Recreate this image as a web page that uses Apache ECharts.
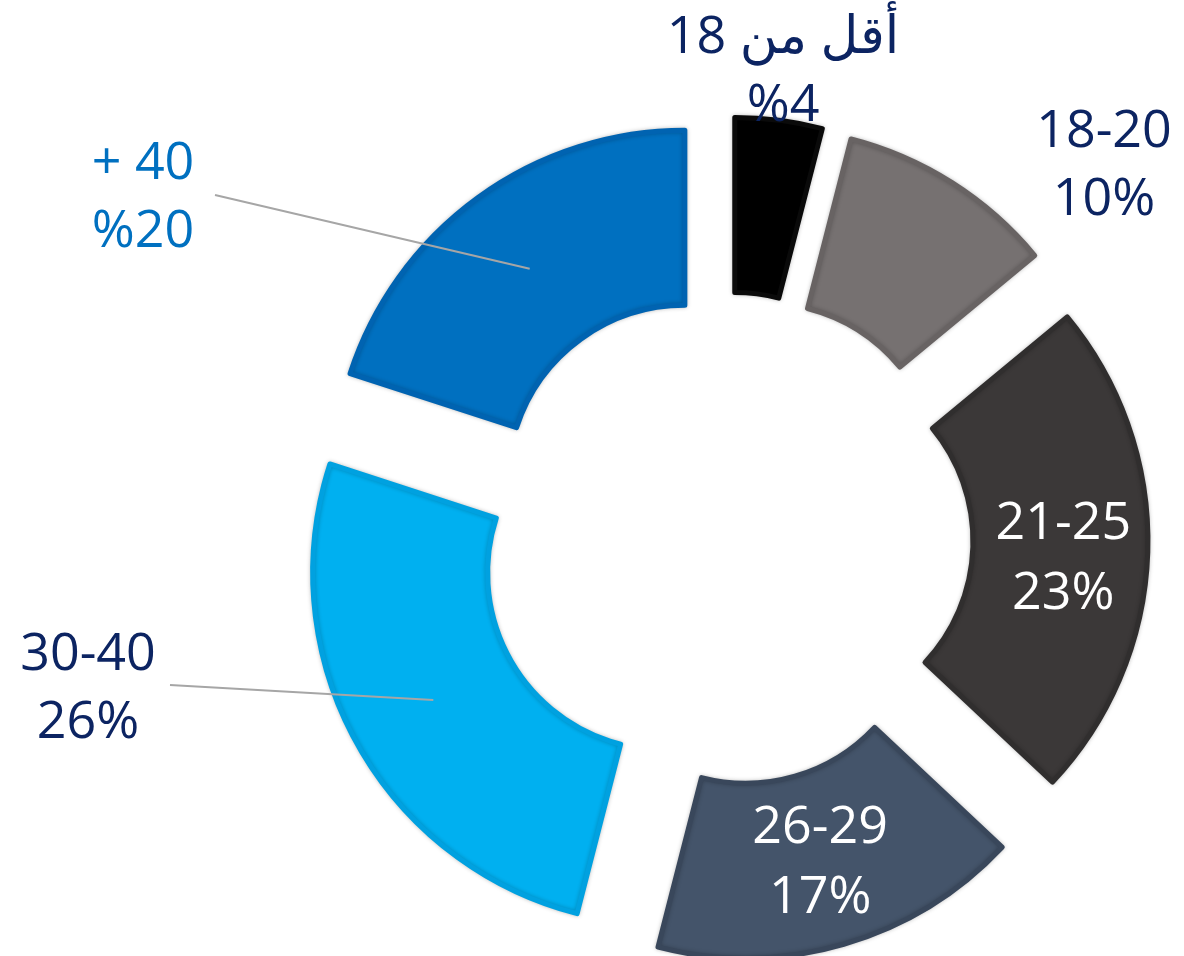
<!DOCTYPE html>
<html>
<head>
<meta charset="utf-8">
<title>Age distribution</title>
<script src="https://cdn.jsdelivr.net/npm/echarts@6/dist/echarts.min.js"></script>
<style>
  html, body { margin: 0; padding: 0; background: #fff; }
  #chart { width: 1184px; height: 956px; }
</style>
</head>
<body>
<div id="chart"></div>
<script>
// age groups, clockwise from the top
const categories = ['أقل من 18', '18-20', '21-25', '26-29', '30-40', '+ 40'];
const shares = [4, 10, 23, 17, 26, 20];
// percent sign written before the number for the Arabic-style labels
const percentFirst = [true, false, false, false, false, true];

const fillColors = ['#000000', '#767171', '#3b3838', '#44546a', '#00b0f0', '#0070c0'];
const edgeColors = ['#0a0a0a', '#686363', '#302e2e', '#39475b', '#00a1e0', '#0063b1'];
const textColors = ['#0c2462', '#0c2462', '#ffffff', '#ffffff', '#0c2462', '#0070c0'];
const insideLabel = [false, false, true, true, false, false];
const withLine = [false, false, false, false, true, true];

// label block centres for the outside labels, and where their leader lines stop
const outsideLabelPos = {
  0: [783, 72],
  1: [1104, 166],
  4: [88, 689],
  5: [143, 198]
};
const lineEnds = {
  4: [170, 685],
  5: [215, 195]
};

const labelFont = "'Open Sans', 'DejaVu Sans', sans-serif";
const labelText = (p) => {
  const pct = percentFirst[p.dataIndex] ? '%' + p.value : p.value + '%';
  return p.name + '\n' + pct;
};

const myChart = echarts.init(document.getElementById('chart'), null, { renderer: 'canvas' });

// exploded donut with the two inside labels
const ringData = categories.map((name, i) => {
  const style = {
    color: fillColors[i],
    borderColor: edgeColors[i],
    borderWidth: 5,
    shadowBlur: 4,
    shadowColor: 'rgba(0,0,0,0.22)'
  };
  return {
    name: name,
    value: shares[i],
    selected: true,
    itemStyle: style,
    select: { itemStyle: style },
    label: { show: insideLabel[i] }
  };
});

// invisible copy that only carries the outside labels; its outer edge sits
// at the middle of the exploded ring so leader lines start inside the slices
const labelData = categories.map((name, i) => ({
  name: name,
  value: shares[i],
  label: { show: !insideLabel[i], color: textColors[i] },
  labelLine: { show: withLine[i] }
}));

const option = {
  animation: false,
  backgroundColor: '#ffffff',
  series: [
    {
      type: 'pie',
      z: 2,
      center: [726, 539],
      radius: [177, 352],
      startAngle: 90,
      clockwise: true,
      selectedMode: 'multiple',
      selectedOffset: 70,
      avoidLabelOverlap: false,
      emphasis: { scale: false, disabled: true },
      label: {
        position: 'inside',
        color: '#ffffff',
        fontFamily: labelFont,
        fontSize: 52,
        lineHeight: 70,
        formatter: labelText
      },
      labelLine: { show: false },
      labelLayout: (params) => (params.dataIndex === 2 ? { dy: 10 } : {}),
      data: ringData
    },
    {
      type: 'pie',
      z: 5,
      silent: true,
      center: [726, 539],
      radius: [0, 334],
      startAngle: 90,
      clockwise: true,
      avoidLabelOverlap: false,
      emphasis: { disabled: true },
      itemStyle: { color: 'rgba(0,0,0,0)', borderWidth: 0 },
      label: {
        position: 'outside',
        fontFamily: labelFont,
        fontSize: 52,
        lineHeight: 68,
        align: 'center',
        formatter: labelText
      },
      labelLine: {
        length: 10,
        length2: 10,
        lineStyle: { color: '#a6a6a6', width: 2 }
      },
      labelLayout: (params) => {
        const pos = outsideLabelPos[params.dataIndex];
        if (!pos) return {};
        const out = { x: pos[0], y: pos[1], align: 'center', verticalAlign: 'middle' };
        const end = lineEnds[params.dataIndex];
        if (end && params.labelLinePoints) {
          out.labelLinePoints = [params.labelLinePoints[0], end];
        }
        return out;
      },
      data: labelData
    }
  ]
};

myChart.setOption(option);
</script>
</body>
</html>
